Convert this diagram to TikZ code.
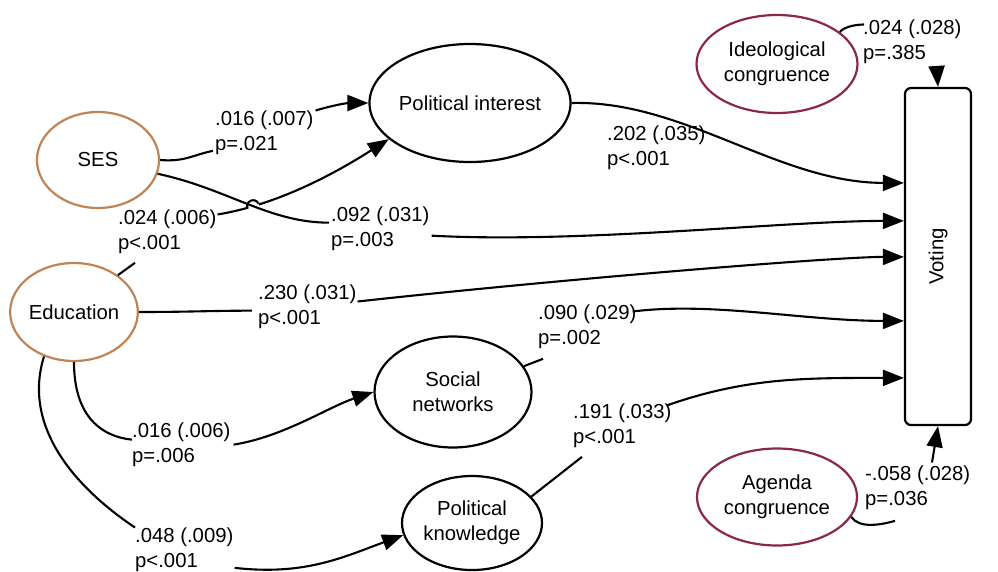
\documentclass[tikz,border=0pt]{standalone}
\usepackage{fontspec}
\setmainfont{Liberation Sans}
\usetikzlibrary{arrows.meta,shapes.geometric,calc,intersections}
\definecolor{sesorange}{RGB}{192,132,84}
\definecolor{congred}{RGB}{140,40,68}
\begin{document}
\begin{tikzpicture}[x=1pt,y=-1pt,
  font=\fontsize{20.3}{25}\selectfont,
  var/.style={draw=black,line width=2.2pt,ellipse,inner sep=0pt,align=center},
  exo/.style={var,draw=sesorange},
  cong/.style={var,draw=congred},
  lbl/.style={anchor=north west,inner sep=0pt,align=left},
  conn/.style={line width=2.1pt,draw=black},
  arr/.style={conn,-{Triangle[length=21pt,width=16pt]}}]
\useasboundingbox (0,0) rectangle (998,571);
% nodes
\node[exo,minimum width=122pt,minimum height=96pt] (ses) at (98,160) {SES};
\node[exo,minimum width=122pt,minimum height=98pt] (edu) at (74,312) {Education};
\node[var,minimum width=196pt,minimum height=118pt] (pi) at (470,103) {Political interest};
\node[var,minimum width=157pt,minimum height=111pt] (sn) at (453,392) {Social\\networks};
\node[var,minimum width=140pt,minimum height=94pt] (pk) at (472,523) {Political\\knowledge};
\node[cong,minimum width=161pt,minimum height=98pt] (ic) at (777,64) {Ideological\\congruence};
\node[cong,minimum width=160pt,minimum height=97pt] (ac) at (777,497) {Agenda\\congruence};
\node[draw=black,line width=2.2pt,rounded corners=6pt,minimum width=66pt,minimum height=337pt,inner sep=0pt] (voting) at (938,256.5) {};
\node[rotate=90,inner sep=0pt] (vt) at (voting.center) {Voting};
% labels
\node[lbl] (l1) at (215,110.5) {.016 (.007)\\p=.021};
\node[lbl] (l2) at (118,209.5) {.024 (.006)\\p<.001};
\node[lbl] (l3) at (331,206.5) {.092 (.031)\\p=.003};
\node[lbl] (l4) at (607,125.5) {.202 (.035)\\p<.001};
\node[lbl] (l5) at (258,284.5) {.230 (.031)\\p<.001};
\node[lbl] (l6) at (538,304.5) {.090 (.029)\\p=.002};
\node[lbl] (l7) at (132,422.5) {.016 (.006)\\p=.006};
\node[lbl] (l8) at (573,403.5) {.191 (.033)\\p<.001};
\node[lbl] (l9) at (135,527.5) {.048 (.009)\\p<.001};
\node[lbl] (l10) at (863,19.5) {.024 (.028)\\p=.385};
\node[lbl] (l11) at (865,465.5) {-.058 (.028)\\p=.036};
% SES -> Political interest
\draw[conn] (ses.east) .. controls +(25,2) and +(-20,4) .. ($(l1.south west)+(-2,-4)$);
\draw[arr] ($(l1.north east)+(2,0)$) .. controls +(20,-6) and +(-20,0) .. (pi.west);
% Education -> Political interest (with bridge)
\draw[conn] (edu.40) -- ($(l2.south west)+(17,9)$);
\draw[arr,name path=edupi] ($(l2.north east)+(1,5)$) .. controls +(60,-10) and +(-55,35) .. (pi.204);
% SES -> Voting
\path[name path=sesv] (ses.-13) .. controls +(70,15) and +(-60,0) .. ($(l3.west)+(-2,-6)$);
\path[name intersections={of=sesv and edupi,by=X}];
\fill[white] (X) circle[radius=6pt];
\draw[conn] (ses.-13) .. controls +(70,15) and +(-60,0) .. ($(l3.west)+(-2,-6)$);
\draw[conn] ([shift={(205:6pt)}]X) arc[start angle=205,end angle=25,radius=6pt];
\draw[arr] ($(l3.east)+(2,7)$) .. controls +(150,8) and +(-120,0) .. ($(voting.north west)+(0,134)$);
% Political interest -> Voting
\draw[arr] (pi.east) .. controls +(112,-3) and +(-125,0) .. ($(voting.north west)+(0,96)$);
% Education -> Voting
\draw[conn] (edu.east) .. controls +(50,0) and +(-40,0) .. ($(l5.west)+(-6,4)$);
\draw[arr] ($(l5.north east)+(1,17)$) .. controls +(200,-22) and +(-70,0) .. ($(voting.north west)+(0,170)$);
% Social networks -> Voting
\draw[conn] (sn.20) -- ($(l6.south west)+(5,10)$);
\draw[arr] ($(l6.north east)+(-4,7)$) .. controls +(80,-10) and +(-100,0) .. ($(voting.north west)+(0,234)$);
% Education -> Social networks
\draw[conn] (edu.south) .. controls +(0,55) and +(-30,-3) .. ($(l7.west)+(0,-5)$);
\draw[arr] ($(l7.east)+(3,0)$) .. controls +(50,-8) and +(-45,15) .. (sn.west);
% Political knowledge -> Voting
\draw[conn] (pk.24) -- ($(l8.south west)+(9,9)$);
\draw[arr] ($(l8.north east)+(-5,2)$) .. controls +(80,-28) and +(-100,0) .. ($(voting.north west)+(0,291)$);
% Education -> Political knowledge
\draw[conn] (edu.236) .. controls +(-22,70) and +(-60,-40) .. (l9.north west);
\draw[arr] ($(l9.south east)+(1,-4)$) .. controls +(70,8) and +(-60,22) .. (pk.190);
% Ideological congruence -> Voting
\draw[conn] (ic.27) .. controls +(5,-6) and +(-6,0) .. ($(l10.north west)+(1,5)$);
\draw[arr] ($(l10.south west)+(74,8)$) -- (voting.north);
% Agenda congruence -> Voting
\draw[conn] (ac.-15) .. controls +(8,12) and +(-14,4) .. ($(l11.south west)+(30,11)$);
\draw[arr] ($(l11.north west)+(67,-3)$) -- (voting.south);
\end{tikzpicture}
\end{document}
